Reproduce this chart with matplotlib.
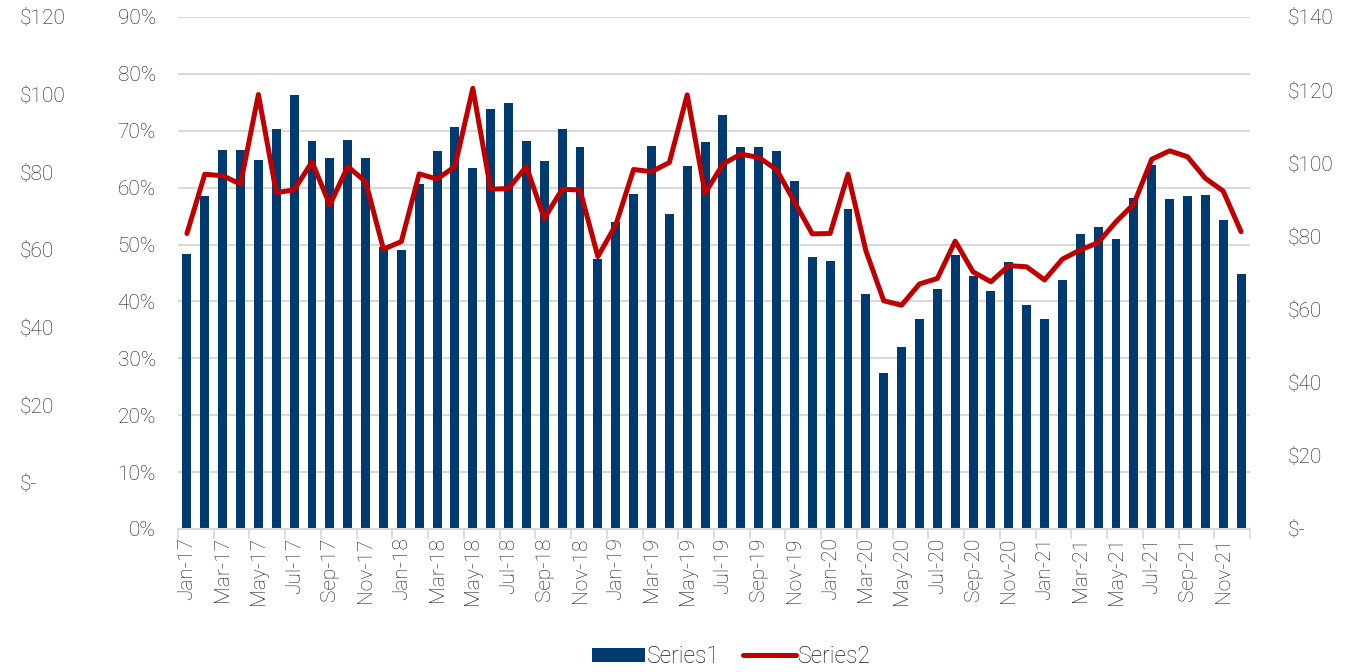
import numpy as np
import matplotlib.pyplot as plt
from matplotlib.ticker import FixedLocator

plt.rcParams['font.family'] = ['Roboto', 'DejaVu Sans']
plt.rcParams['font.weight'] = 'light'

# Mjeseci (Jan-17 .. Dec-21)
months = ['Jan', 'Feb', 'Mar', 'Apr', 'May', 'Jun',
          'Jul', 'Aug', 'Sep', 'Oct', 'Nov', 'Dec']
years = ['17', '18', '19', '20', '21']
labels = [f'{m}-{y}' for y in years for m in months]

# Series1 - postotak (stupci)
series1 = [48.3, 58.5, 66.7, 66.6, 64.9, 70.4, 76.3, 68.2, 65.2, 68.4, 65.2, 49.5,
           49.0, 60.6, 66.4, 70.7, 63.5, 73.8, 74.9, 68.2, 64.7, 70.4, 67.1, 47.5,
           53.9, 58.8, 67.4, 55.3, 63.8, 68.1, 72.8, 67.1, 67.1, 66.5, 61.2, 47.8,
           47.1, 56.3, 41.3, 27.5, 32.0, 37.0, 42.2, 48.2, 44.5, 41.8, 46.9, 39.4,
           37.0, 43.7, 51.8, 53.1, 51.0, 58.2, 63.9, 58.0, 58.5, 58.7, 54.4, 44.8]

# Series2 - cijena (linija, desna os)
series2 = [80.8, 97.0, 96.6, 94.3, 118.8, 92.0, 92.7, 100.4, 88.6, 99.1, 95.0, 76.5,
           78.6, 97.1, 95.7, 99.1, 120.5, 92.9, 93.1, 99.1, 84.9, 92.9, 92.7, 74.5,
           83.1, 98.3, 97.7, 100.2, 118.7, 91.8, 99.8, 102.5, 101.6, 98.3, 89.5, 80.7,
           80.8, 97.0, 76.1, 62.4, 61.2, 67.0, 68.5, 78.7, 70.3, 67.6, 72.0, 71.7,
           68.1, 73.8, 76.3, 78.3, 84.0, 88.9, 101.1, 103.4, 101.8, 95.9, 92.4, 81.3]

pct_ticks = [0, 10, 20, 30, 40, 50, 60, 70, 80, 90]
right_ticks = [0, 20, 40, 60, 80, 100, 120, 140]
far_left_ticks = [0, 20, 40, 60, 80, 100, 120]

bar_color = '#003A70'
line_color = '#C00000'
text_color = '#1a1a1a'
grid_color = '#D9D9D9'
fs = 15


def dollar(v):
    return '$-' if v == 0 else f'${v}'


x = np.arange(len(labels))

fig = plt.figure(figsize=(13.55, 6.72), dpi=100)
ax = fig.add_axes([178 / 1355, 1 - 529 / 672, 1072 / 1355, 512 / 672])

bars = ax.bar(x, series1, width=0.5, color=bar_color, zorder=2, label='Series1')
ax.set_xlim(-0.5, len(labels) - 0.5)
ax.set_ylim(0, 90)
ax.set_yticks(pct_ticks)
ax.set_yticklabels([f'{t}%' for t in pct_ticks])
ax.grid(axis='y', color=grid_color, linewidth=1.5, zorder=0)
ax.tick_params(axis='y', length=0, pad=16, labelsize=fs, labelcolor=text_color)

# x os: oznake svaki drugi mjesec, crtice na granicama
ax.set_xticks(x[::2])
ax.set_xticklabels(labels[::2], rotation=90)
ax.xaxis.set_minor_locator(FixedLocator(np.arange(-0.5, len(labels), 2)))
ax.tick_params(axis='x', which='major', length=0, pad=6, labelsize=fs, labelcolor=text_color)
ax.tick_params(axis='x', which='minor', length=7, width=1.2, color=grid_color)

for s in ['top', 'left', 'right']:
    ax.spines[s].set_visible(False)
ax.spines['bottom'].set_color(grid_color)
ax.spines['bottom'].set_linewidth(1.5)

# desna os za Series2
ax2 = ax.twinx()
line, = ax2.plot(x, series2, color=line_color, linewidth=3.6, zorder=3,
                 solid_joinstyle='round', solid_capstyle='round', label='Series2')
ax2.set_ylim(0, 140)
ax2.set_yticks(right_ticks)
ax2.set_yticklabels([dollar(t) for t in right_ticks])
ax2.tick_params(axis='y', length=0, pad=27, labelsize=fs, labelcolor=text_color)
for s in ax2.spines.values():
    s.set_visible(False)

# treca (dekorativna) os skroz lijevo
ax3 = ax.twinx()
ax3.set_ylim(-11.87, 120)
ax3.yaxis.set_ticks_position('left')
ax3.set_yticks(far_left_ticks)
ax3.set_yticklabels([dollar(t) for t in far_left_ticks])
ax3.tick_params(axis='y', length=0, pad=158 * 72 / 100, labelsize=fs, labelcolor=text_color)
for lab in ax3.get_yticklabels():
    lab.set_horizontalalignment('left')
for s in ax3.spines.values():
    s.set_visible(False)
ax3.set_zorder(-1)

fig.legend(handles=[bars, line], labels=['Series1', 'Series2'], loc='lower center',
           bbox_to_anchor=(0.54, -0.025), ncol=2, frameon=False, fontsize=16.5,
           handlelength=2.3, handleheight=0.6, handletextpad=0.1, columnspacing=1.0,
           labelcolor=text_color)

fig.savefig('out.png', dpi=100)
